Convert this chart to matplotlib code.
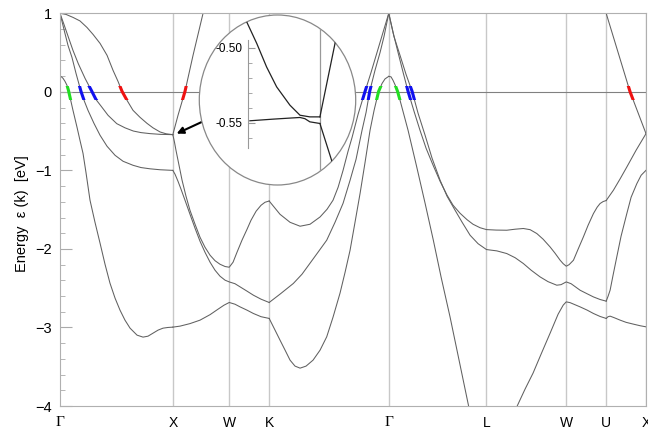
import matplotlib
matplotlib.use('Agg')
import matplotlib.pyplot as plt
from matplotlib.patches import Ellipse, Rectangle

plt.rcParams['font.family'] = ['Liberation Sans', 'DejaVu Sans']
plt.rcParams['font.size'] = 10

###############################################################################
# data: k along the path (2pi/a units), energy in eV
###############################################################################

sym_k = [0.0, 1.0, 1.5, 1.854, 2.914, 3.780, 4.487, 4.841, 5.194]
sym_labels = ['Γ', 'X', 'W', 'K', 'Γ', 'L', 'W', 'U', 'X']

# Gamma - X
gx_top_k = [0, 0.053, 0.115, 0.177, 0.239, 0.293, 0.355, 0.417, 0.47, 0.514, 0.55,
            0.594, 0.647, 0.709, 0.771, 0.824, 0.887, 0.94, 1.0]
gx_top_e = [1.0, 0.986, 0.948, 0.903, 0.82, 0.731, 0.617, 0.465, 0.274, 0.134, 0.006,
            -0.108, -0.235, -0.324, -0.401, -0.458, -0.511, -0.534, -0.545]
gx_mid_k = [0, 0.035, 0.074, 0.115, 0.162, 0.222, 0.281, 0.319, 0.37, 0.426, 0.503,
            0.576, 0.65, 0.718, 0.798, 0.887, 1.0]
gx_mid_e = [1.0, 0.859, 0.697, 0.528, 0.359, 0.172, 0.01, -0.098, -0.193, -0.299,
            -0.405, -0.458, -0.499, -0.519, -0.532, -0.541, -0.545]
gx_low_k = [0, 0.022, 0.044, 0.071, 0.106, 0.142, 0.186, 0.213, 0.248, 0.301, 0.355,
            0.417, 0.488, 0.559, 0.647, 0.718, 0.798, 0.887, 1.0]
gx_low_e = [1.0, 0.872, 0.744, 0.591, 0.439, 0.235, 0.006, -0.108, -0.235, -0.401,
            -0.553, -0.693, -0.808, -0.884, -0.935, -0.964, -0.98, -0.992, -1.0]
gx_bot_k = [0, 0.013, 0.027, 0.044, 0.062, 0.075, 0.089, 0.115, 0.151, 0.177, 0.204,
            0.23, 0.266, 0.31, 0.355, 0.399, 0.443, 0.488, 0.532, 0.576, 0.621, 0.683,
            0.736, 0.78, 0.824, 0.869, 0.913, 0.957, 1.0]
gx_bot_e = [0.197, 0.191, 0.172, 0.134, 0.083, 0.019, -0.07, -0.235, -0.452, -0.617,
            -0.783, -1.024, -1.38, -1.66, -1.927, -2.195, -2.436, -2.627, -2.78,
            -2.907, -3.009, -3.098, -3.123, -3.111, -3.073, -3.034, -3.009, -3.0, -2.996]

# X - W - K
xw_up_k = [1.0, 1.046, 1.108, 1.179, 1.268, 1.33]
xw_up_e = [-0.545, -0.299, 0.006, 0.464, 1.0, 1.42]
xk_a_k = [1.0, 1.015, 1.028, 1.055, 1.082, 1.117, 1.152, 1.197, 1.241, 1.285, 1.33,
          1.374, 1.418, 1.463, 1.5, 1.534, 1.569, 1.613, 1.658, 1.693, 1.738, 1.782,
          1.817, 1.854]
xk_a_e = [-0.545, -0.643, -0.744, -0.935, -1.126, -1.33, -1.508, -1.686, -1.851,
          -1.978, -2.08, -2.15, -2.195, -2.224, -2.233, -2.169, -2.042, -1.889, -1.749,
          -1.635, -1.52, -1.444, -1.406, -1.39]
xk_b_k = [1.0, 1.02, 1.046, 1.073, 1.108, 1.152, 1.197, 1.241, 1.285, 1.33, 1.374,
          1.418, 1.463, 1.5, 1.551, 1.596, 1.658, 1.714, 1.782, 1.854]
xk_b_e = [-1.0, -1.05, -1.139, -1.241, -1.38, -1.558, -1.737, -1.902, -2.042, -2.169,
          -2.271, -2.347, -2.398, -2.42, -2.443, -2.483, -2.538, -2.589, -2.64, -2.682]
xk_c_k = [1.0, 1.064, 1.152, 1.241, 1.33, 1.401, 1.454, 1.5, 1.551, 1.596, 1.658,
          1.714, 1.782, 1.854]
xk_c_e = [-2.996, -2.983, -2.951, -2.907, -2.837, -2.767, -2.716, -2.682, -2.704,
          -2.738, -2.78, -2.822, -2.863, -2.885]

# K - Gamma
kg_a_k = [1.854, 1.95, 2.039, 2.128, 2.216, 2.305, 2.367, 2.42, 2.465, 2.509, 2.553,
          2.589, 2.642, 2.704, 2.757, 2.81, 2.863, 2.914]
kg_a_e = [-1.39, -1.559, -1.661, -1.711, -1.686, -1.593, -1.495, -1.38, -1.215, -0.999,
          -0.757, -0.579, -0.286, 0.006, 0.248, 0.502, 0.757, 1.0]
kg_b_k = [1.854, 1.95, 2.068, 2.145, 2.216, 2.287, 2.364, 2.438, 2.509, 2.571, 2.624,
          2.677, 2.713, 2.745, 2.792, 2.837, 2.872, 2.914]
kg_b_e = [-2.682, -2.576, -2.44, -2.322, -2.182, -2.042, -1.889, -1.66, -1.419, -1.126,
          -0.859, -0.49, -0.261, 0.006, 0.274, 0.502, 0.706, 1.0]
kg_c_k = [1.854, 1.906, 1.95, 1.995, 2.039, 2.083, 2.128, 2.181, 2.243, 2.305, 2.364,
          2.42, 2.482, 2.527, 2.571, 2.615, 2.66, 2.704, 2.748, 2.784, 2.824, 2.855,
          2.881, 2.914]
kg_c_e = [-2.885, -3.034, -3.161, -3.289, -3.416, -3.492, -3.518, -3.492, -3.416,
          -3.289, -3.119, -2.869, -2.563, -2.296, -2.017, -1.66, -1.291, -0.897, -0.49,
          -0.235, 0.006, 0.108, 0.165, 0.197]

# Gamma - L - W - U
gu_a_k = [2.914, 2.952, 2.996, 3.041, 3.085, 3.138, 3.191, 3.245, 3.307, 3.369, 3.431,
          3.484, 3.546, 3.608, 3.661, 3.723, 3.78, 3.865, 3.96, 4.034, 4.107, 4.167,
          4.226, 4.282, 4.344, 4.388, 4.433, 4.46, 4.487, 4.512, 4.551, 4.592, 4.639,
          4.681, 4.728, 4.761, 4.787, 4.814, 4.841]
gu_a_e = [1.0, 0.757, 0.503, 0.248, 0.006, -0.248, -0.49, -0.719, -0.935, -1.139,
          -1.317, -1.444, -1.546, -1.628, -1.686, -1.73, -1.754, -1.76, -1.762, -1.749,
          -1.74, -1.755, -1.804, -1.876, -1.975, -2.055, -2.144, -2.188, -2.22, -2.201,
          -2.144, -2.004, -1.847, -1.698, -1.55, -1.469, -1.422, -1.397, -1.384]
gu_b_k = [2.914, 2.96, 3.014, 3.067, 3.121, 3.174, 3.236, 3.298, 3.369, 3.431, 3.502,
          3.564, 3.635, 3.706, 3.78, 3.872, 3.96, 4.034, 4.107, 4.176, 4.255, 4.326,
          4.403, 4.441, 4.487, 4.53, 4.61, 4.672, 4.728, 4.787, 4.841]
gu_b_e = [1.0, 0.706, 0.464, 0.223, 0.006, -0.274, -0.553, -0.846, -1.126, -1.33,
          -1.508, -1.66, -1.826, -1.934, -2.008, -2.025, -2.059, -2.112, -2.186,
          -2.271, -2.356, -2.417, -2.462, -2.455, -2.42, -2.443, -2.526, -2.571,
          -2.611, -2.644, -2.665]
gl_c_k = [2.914, 2.934, 2.952, 2.97, 2.992, 3.014, 3.085, 3.162, 3.236, 3.309, 3.378,
          3.457, 3.537, 3.62, 3.679]
gl_c_e = [0.197, 0.191, 0.146, 0.089, 0.006, -0.108, -0.489, -0.957, -1.419, -1.889,
          -2.36, -2.865, -3.416, -3.989, -4.37]
lu_d_k = [3.989, 4.049, 4.122, 4.193, 4.264, 4.344, 4.415, 4.46, 4.487, 4.521, 4.61,
          4.672, 4.728, 4.787, 4.841]
lu_d_e = [-4.179, -4.01, -3.785, -3.581, -3.34, -3.073, -2.831, -2.716, -2.674,
          -2.684, -2.738, -2.779, -2.822, -2.86, -2.885]

# U - X
ux_a_k = [4.841, 4.905, 4.965, 5.024, 5.106, 5.194]
ux_a_e = [-1.384, -1.253, -1.107, -0.957, -0.744, -0.532]
ux_b_k = [4.841, 4.858, 4.876, 4.902, 4.935, 4.973, 5.024, 5.062, 5.113, 5.151, 5.194]
ux_b_e = [-2.665, -2.602, -2.525, -2.335, -2.102, -1.838, -1.55, -1.342, -1.168,
          -1.062, -0.999]
ux_c_k = [4.841, 4.858, 4.876, 4.911, 4.965, 5.018, 5.083, 5.142, 5.194]
ux_c_e = [-2.885, -2.863, -2.856, -2.875, -2.907, -2.935, -2.958, -2.978, -2.992]
ux_top_k = [4.787, 4.841, 5.053, 5.194]
ux_top_e = [1.228, 1.0, 0.0, -0.532]

# magnified view around X near -0.55 eV
ins_up_k = [0.9627, 0.9658, 0.9705, 0.9751, 0.9798, 0.986, 0.9907, 0.9953, 1.0]
ins_up_e = [-0.4716, -0.4827, -0.4971, -0.5128, -0.5261, -0.5383, -0.545, -0.5461, -0.5461]
ins_lo_k = [0.9673, 0.9782, 0.986, 0.9907, 0.993, 0.9953, 1.0]
ins_lo_e = [-0.5487, -0.5476, -0.5469, -0.5465, -0.5473, -0.5494, -0.5505]
ins_rise_k = [1.0, 1.0085]
ins_rise_e = [-0.5461, -0.487]
ins_fall_k = [1.0, 1.007]
ins_fall_e = [-0.5505, -0.582]

bands = [(gx_top_k, gx_top_e), (gx_mid_k, gx_mid_e), (gx_low_k, gx_low_e),
         (gx_bot_k, gx_bot_e), (xw_up_k, xw_up_e), (xk_a_k, xk_a_e),
         (xk_b_k, xk_b_e), (xk_c_k, xk_c_e), (kg_a_k, kg_a_e), (kg_b_k, kg_b_e),
         (kg_c_k, kg_c_e), (gu_a_k, gu_a_e), (gu_b_k, gu_b_e), (gl_c_k, gl_c_e),
         (lu_d_k, lu_d_e), (ux_a_k, ux_a_e), (ux_b_k, ux_b_e), (ux_c_k, ux_c_e),
         (ux_top_k, ux_top_e)]

# Fermi crossings: band, k of crossing, colour
RED, GREEN, BLUE = '#ee1111', '#22dd22', '#1111ee'
fermi_marks = [(gx_bot_k, gx_bot_e, 0.074, GREEN), (gx_low_k, gx_low_e, 0.186, BLUE),
               (gx_mid_k, gx_mid_e, 0.281, BLUE), (gx_top_k, gx_top_e, 0.547, RED),
               (xw_up_k, xw_up_e, 1.108, RED), (kg_a_k, kg_a_e, 2.704, BLUE),
               (kg_b_k, kg_b_e, 2.745, BLUE), (kg_c_k, kg_c_e, 2.824, GREEN),
               (gl_c_k, gl_c_e, 2.992, GREEN), (gu_a_k, gu_a_e, 3.085, BLUE),
               (gu_b_k, gu_b_e, 3.121, BLUE), (ux_top_k, ux_top_e, 5.053, RED)]

###############################################################################
# main band plot
###############################################################################

fig = plt.figure(figsize=(6.48, 4.33), dpi=100)
ax = fig.add_axes([60 / 648, 27 / 433, 586 / 648, 392.7 / 433])

for k in sym_k[1:]:
    ax.axvline(k, color='#c8c8c8', lw=1.0, zorder=1)
ax.axhline(0, color='#808080', lw=0.8, zorder=1)

for k, e in bands:
    ax.plot(k, e, color='#606060', lw=0.75, zorder=2)

for k, e, kc, col in fermi_marks:
    line, = ax.plot(k, e, color=col, lw=2.2, zorder=3, solid_capstyle='butt')
    line.set_clip_path(Rectangle((kc - 0.15, -0.11), 0.3, 0.18, transform=ax.transData))

ax.set_xlim(0, sym_k[-1])
ax.set_ylim(-4, 1)
for s in ax.spines.values():
    s.set_color('#b0b0b0')

ax.set_xticks(sym_k)
ax.set_xticklabels(sym_labels)
for lab in ax.get_xticklabels():
    if lab.get_text() == 'Γ':
        lab.set_fontfamily('Liberation Serif')
        lab.set_fontsize(11)
ax.tick_params(axis='x', length=0, pad=7)

ax.set_yticks([-4, -3, -2, -1, 0, 1])
ax.set_yticks([-4 + 0.2 * i for i in range(26)], minor=True)
ax.tick_params(axis='y', which='major', direction='in', length=8.5, color='#aaaaaa',
               labelsize=10.5, pad=6)
ax.tick_params(axis='y', which='minor', direction='in', length=3.6, color='#aaaaaa')
ax.set_ylabel('Energy  ε (k)  [eV]', fontsize=10.5)
ax.yaxis.set_label_coords(-0.053, 0.49)

ax.annotate('', xy=(1.034, -0.532), xytext=(1.256, -0.384),
            arrowprops=dict(arrowstyle='-|>', color='black', lw=1.5,
                            mutation_scale=10, shrinkA=0, shrinkB=0))

###############################################################################
# circular magnifier
###############################################################################

ax_in = fig.add_axes([199.3 / 648, 248 / 433, 156.4 / 648, 170 / 433])
ax_in.set_xlim(0.9437, 1.0167)
ax_in.set_ylim(-0.5915, -0.4782)
ax_in.patch.set_visible(False)
lens = Ellipse((0.5, 0.5), 1, 1, transform=ax_in.transAxes, facecolor='white',
               edgecolor='#888888', lw=0.9, zorder=0, clip_on=False)
ax_in.add_patch(lens)

vl = ax_in.axvline(1.0, color='#999999', lw=0.9, zorder=1)
vl.set_clip_path(lens)
for k, e in [(ins_up_k, ins_up_e), (ins_lo_k, ins_lo_e),
             (ins_rise_k, ins_rise_e), (ins_fall_k, ins_fall_e)]:
    ln, = ax_in.plot(k, e, color='#222222', lw=0.9, zorder=2)
    ln.set_clip_path(lens)

for side in ['top', 'right', 'bottom']:
    ax_in.spines[side].set_visible(False)
ax_in.spines['left'].set_position(('data', 0.9666))
ax_in.spines['left'].set_bounds(-0.567, -0.495)
ax_in.spines['left'].set_color('#999999')
ax_in.set_xticks([])
ax_in.set_yticks([-0.55, -0.50])
ax_in.set_yticklabels(['-0.55', '-0.50'])
ax_in.set_yticks([-0.56, -0.54, -0.53, -0.52, -0.51], minor=True)
ax_in.tick_params(axis='y', which='major', direction='in', length=5, color='#999999',
                  labelsize=8.5, pad=4)
ax_in.tick_params(axis='y', which='minor', direction='in', length=3, color='#999999')

fig.savefig('out.png', dpi=100)
